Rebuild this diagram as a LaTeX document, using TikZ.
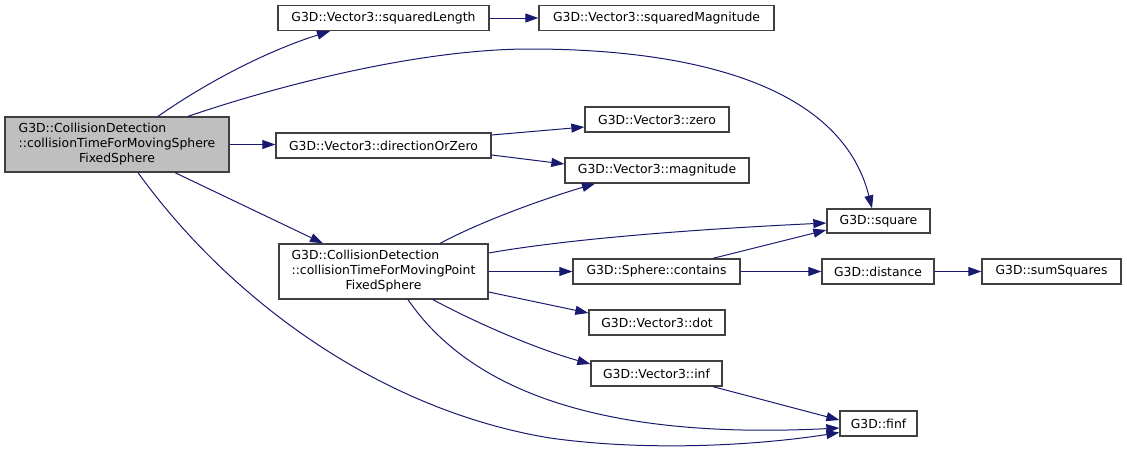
\documentclass[tikz,border=0pt]{standalone}
\usepackage{fontspec}
\setmainfont{DejaVu Sans}
\usetikzlibrary{arrows.meta}
\definecolor{edgecol}{HTML}{191970}
\definecolor{boxline}{HTML}{404040}
\definecolor{mainfill}{HTML}{BFBFBF}
\begin{document}
\begin{tikzpicture}[x=1pt,y=-1pt,
  box/.style={draw=boxline, line width=1.3pt, fill=white, inner sep=0pt, minimum height=25pt,
    font=\fontsize{12.4}{14.7}\selectfont, text=black},
  bigbox/.style={box, minimum height=55pt},
  edge/.style={draw=edgecol, line width=1pt, -{Triangle[length=13pt,width=9pt]}}]
\useasboundingbox (0,0) rectangle (1127,455);
% nodes
\node[bigbox, fill=mainfill, minimum width=224pt] (main) at (117,144.5)
  {\begin{tabular}{@{}l@{}}G3D::CollisionDetection\\::collisionTimeForMovingSphere\\\multicolumn{1}{@{}c@{}}{FixedSphere}\end{tabular}};
\node[box, minimum width=211pt] (sqLen) at (383.5,18) {G3D::Vector3::squaredLength};
\node[box, minimum width=235pt] (sqMag) at (656.5,18) {G3D::Vector3::squaredMagnitude};
\node[box, minimum width=215pt] (dirZ) at (383.5,145.5) {G3D::Vector3::directionOrZero};
\node[box, minimum width=144pt] (zero) at (657,119.5) {G3D::Vector3::zero};
\node[box, minimum width=184pt] (mag) at (657,170.5) {G3D::Vector3::magnitude};
\node[box, minimum width=103pt, minimum height=24pt] (square) at (878.5,221) {G3D::square};
\node[box, minimum width=112pt] (distance) at (878,271.5) {G3D::distance};
\node[box, minimum width=139pt] (sumSq) at (1051.5,271.5) {G3D::sumSquares};
\node[box, minimum width=77pt] (finf) at (878.5,423.5) {G3D::finf};
\node[bigbox, minimum width=209pt] (point) at (383.5,271.5)
  {\begin{tabular}{@{}l@{}}G3D::CollisionDetection\\::collisionTimeForMovingPoint\\\multicolumn{1}{@{}c@{}}{FixedSphere}\end{tabular}};
\node[box, minimum width=167pt] (contains) at (656.5,271.5) {G3D::Sphere::contains};
\node[box, minimum width=136pt] (dot) at (657,322.5) {G3D::Vector3::dot};
\node[box, minimum width=131pt] (inf) at (656.5,373.5) {G3D::Vector3::inf};
% edges
\draw[edge] ([xshift=41pt]main.north) .. controls (210,80) and (270,50) .. ([xshift=-53.5pt]sqLen.south);
\draw[edge] ([xshift=71pt]main.north) .. controls (280,85) and (420,49) .. (530,49)
  .. controls (680,49) and (840,80) .. ([xshift=-6.5pt]square.north);
\draw[edge] (main.east) -- (main.east -| dirZ.west);
\draw[edge] ([xshift=58pt]main.south) -- ([xshift=-60.5pt]point.north);
\draw[edge] ([xshift=21pt]main.south) .. controls (230,300) and (380,410) .. (550,438)
  .. controls (650,452) and (760,445) .. ([yshift=-9pt]finf.west);
\draw[edge] (sqLen.east) -- (sqMag.west);
\draw[edge] ([yshift=10.5pt]dirZ.east) -- ([yshift=-7.5pt]zero.west);
\draw[edge] ([yshift=-9.5pt]dirZ.east) -- ([yshift=6.5pt]mag.west);
\draw[edge] ([xshift=56.5pt]point.north) .. controls (480,222) and (540,200) .. ([xshift=-62pt]mag.south);
\draw[edge] ([yshift=18.5pt]point.east) .. controls (580,237) and (720,228) .. ([yshift=-2pt]square.west);
\draw[edge] (point.east) -- (contains.west);
\draw[edge] ([yshift=-20.5pt]point.east) -- ([yshift=9.5pt]dot.west);
\draw[edge] ([xshift=49.5pt]point.south) .. controls (480,325) and (540,350) .. ([yshift=9.5pt]inf.west);
\draw[edge] ([xshift=24.5pt]point.south) .. controls (470,390) and (600,440) .. ([yshift=-4.5pt]finf.west);
\draw[edge] ([xshift=56.5pt]contains.north) -- ([yshift=-9pt]square.west);
\draw[edge] (contains.east) -- (distance.west);
\draw[edge] (distance.east) -- (sumSq.west);
\draw[edge] ([xshift=56.5pt]inf.south) -- ([yshift=3.5pt]finf.west);
\end{tikzpicture}
\end{document}
